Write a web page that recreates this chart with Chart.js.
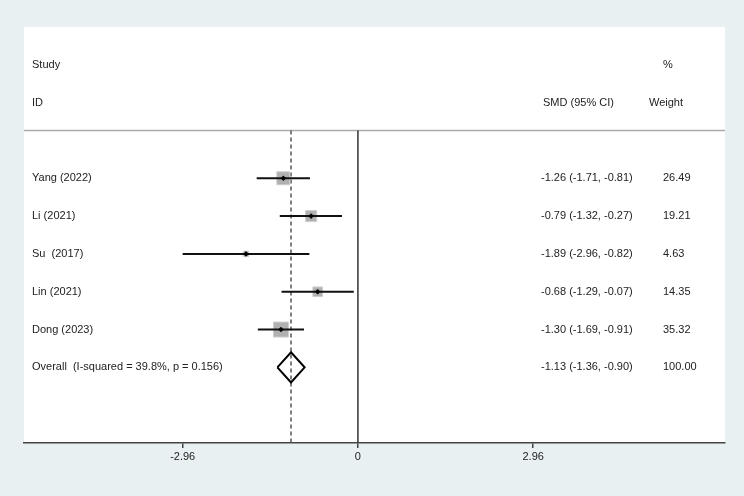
<!DOCTYPE html>
<html>
<head>
<meta charset="utf-8">
<script src="https://cdn.jsdelivr.net/npm/chart.js@4"></script>
<style>
  html, body { margin: 0; padding: 0; background: #e8f0f2; }
  #wrap { width: 744px; height: 496px; }
</style>
</head>
<body>
<div id="wrap"><canvas id="forest"></canvas></div>
<script>
// dados do forest plot
const studies = ['Yang (2022)', 'Li (2021)', 'Su  (2017)', 'Lin (2021)', 'Dong (2023)']
const smd = [-1.26, -0.79, -1.89, -0.68, -1.30]
const ciLow = [-1.71, -1.32, -2.96, -1.29, -1.69]
const ciHigh = [-0.81, -0.27, -0.82, -0.07, -0.91]
const weights = [26.49, 19.21, 4.63, 14.35, 35.32]

const overallLabel = 'Overall  (I-squared = 39.8%, p = 0.156)'
const overallSmd = -1.13
const overallLow = -1.36
const overallHigh = -0.90
const overallWeight = 100.00

const tickValues = [-2.96, 0, 2.96]
const tickLabels = ['-2.96', '0', '2.96']

//? layout (unidades do eixo)
const X_MIN = -5.64, X_MAX = 6.2
const Y_MIN = -3, Y_MAX = 8
const COL_STUDY = -5.5, COL_SMD = 3.09, COL_WEIGHT = 5.15
const SEP_ROW = -0.26
const FONT = '11px "Liberation Sans", Arial, sans-serif'
const TEXT_COLOR = '#222'

function fmt(v) { return v.toFixed(2) }

const datasets = []

// linhas de referencia
datasets.push({
    data: [{ x: 0, y: SEP_ROW }, { x: 0, y: Y_MAX }],
    showLine: true, borderColor: '#333', borderWidth: 1.5, pointRadius: 0, order: 10
})
datasets.push({
    data: [{ x: overallSmd, y: SEP_ROW }, { x: overallSmd, y: Y_MAX }],
    showLine: true, borderColor: '#555', borderWidth: 1.5, borderDash: [4, 3], pointRadius: 0, order: 10
})
datasets.push({
    data: [{ x: X_MIN, y: SEP_ROW }, { x: X_MAX, y: SEP_ROW }],
    showLine: true, borderColor: '#aaaaaa', borderWidth: 1.5, pointRadius: 0, order: 10
})

// quadrados (peso)
datasets.push({
    data: smd.map((v, i) => ({ x: v, y: i + 1 })),
    showLine: false,
    pointStyle: 'rect',
    pointRadius: weights.map(w => 2.52 * Math.sqrt(w) / Math.SQRT2),
    backgroundColor: '#b0b0b0',
    borderColor: '#cdcdcd',
    borderWidth: 1,
    order: 5
})

// intervalos de confianca
for (let c = 0; c < studies.length; c++) {
    datasets.push({
        data: [{ x: ciLow[c], y: c + 1 }, { x: ciHigh[c], y: c + 1 }],
        showLine: true, borderColor: '#111', borderWidth: 2, pointRadius: 0, order: 4
    })
}

// ponto estimado
datasets.push({
    data: smd.map((v, i) => ({ x: v, y: i + 1 })),
    showLine: false, pointStyle: 'rectRot', pointRadius: 2.8,
    backgroundColor: '#000', borderColor: '#000', borderWidth: 0, order: 1
})

// diamante geral
const rowOverall = studies.length + 1
const h = 0.4
datasets.push({
    data: [
        { x: overallLow, y: rowOverall },
        { x: overallSmd, y: rowOverall - h },
        { x: overallHigh, y: rowOverall },
        { x: overallSmd, y: rowOverall + h },
        { x: overallLow, y: rowOverall }
    ],
    showLine: true, borderColor: '#000', borderWidth: 2, pointRadius: 0, fill: false, tension: 0, order: 3
})

const bgPlugin = {
    id: 'bg',
    beforeDraw(chart) {
        const { ctx, chartArea } = chart
        ctx.save()
        ctx.fillStyle = '#e8f0f2'
        ctx.fillRect(0, 0, chart.width, chart.height)
        ctx.fillStyle = '#ffffff'
        ctx.fillRect(chartArea.left, chartArea.top, chartArea.right - chartArea.left, chartArea.bottom - chartArea.top)
        ctx.restore()
    }
}

const textPlugin = {
    id: 'textos',
    afterDatasetsDraw(chart) {
        const { ctx } = chart
        const xs = chart.scales.x, ys = chart.scales.y
        ctx.save()
        ctx.font = FONT
        ctx.fillStyle = TEXT_COLOR
        ctx.textBaseline = 'middle'
        ctx.textAlign = 'left'
        const put = (t, cx, row) => ctx.fillText(t, Math.round(xs.getPixelForValue(cx)), Math.round(ys.getPixelForValue(row)))

        put('Study', COL_STUDY, -2)
        put('ID', COL_STUDY, -1)
        put('%', COL_WEIGHT, -2)
        put('SMD (95% CI)', COL_SMD + 0.03, -1)
        put('Weight', COL_WEIGHT - 0.24, -1)

        for (let c = 0; c < studies.length; c++) {
            put(studies[c], COL_STUDY, c + 1)
            put(`${fmt(smd[c])} (${fmt(ciLow[c])}, ${fmt(ciHigh[c])})`, COL_SMD, c + 1)
            put(fmt(weights[c]), COL_WEIGHT, c + 1)
        }
        put(overallLabel, COL_STUDY, rowOverall)
        put(`${fmt(overallSmd)} (${fmt(overallLow)}, ${fmt(overallHigh)})`, COL_SMD, rowOverall)
        put(fmt(overallWeight), COL_WEIGHT, rowOverall)
        ctx.restore()
    }
}

const ctx = document.getElementById('forest').getContext('2d')
const forestChart = new Chart(ctx, {
    type: 'scatter',
    data: { datasets: datasets },
    options: {
        responsive: true,
        maintainAspectRatio: false,
        animation: false,
        layout: { padding: { left: 24, right: 19, top: 27, bottom: 0 } },
        plugins: { legend: { display: false }, tooltip: { enabled: false } },
        scales: {
            x: {
                type: 'linear',
                min: X_MIN, max: X_MAX,
                afterBuildTicks: (s) => { s.ticks = tickValues.map(v => ({ value: v })) },
                afterFit: (s) => { s.height = 53 },
                ticks: {
                    autoSkip: false,
                    padding: 2,
                    color: TEXT_COLOR,
                    font: { family: '"Liberation Sans", Arial, sans-serif', size: 11 },
                    callback: (v) => tickLabels[tickValues.indexOf(v)]
                },
                grid: { display: true, drawOnChartArea: false, tickLength: 5, color: '#444', lineWidth: 1.5 },
                border: { display: true, color: '#444', width: 1.5 }
            },
            y: {
                type: 'linear',
                display: false,
                reverse: true,
                min: Y_MIN, max: Y_MAX
            }
        }
    },
    plugins: [bgPlugin, textPlugin]
})
</script>
</body>
</html>
